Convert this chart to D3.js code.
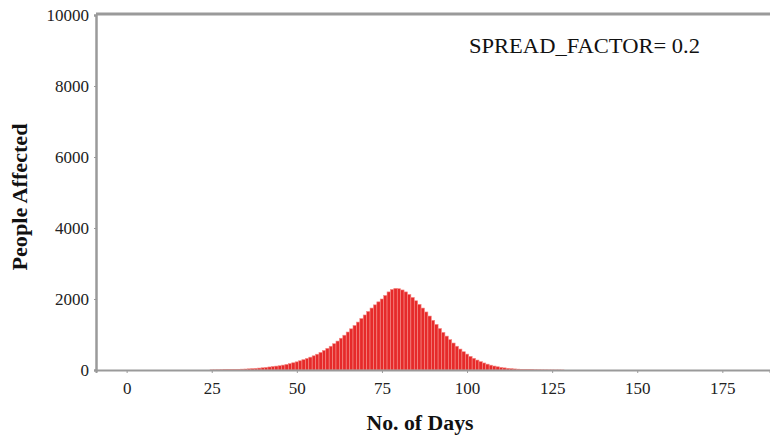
<!DOCTYPE html>
<html>
<head>
<meta charset="utf-8">
<script src="https://cdn.jsdelivr.net/npm/d3@7"></script>
<style>
  body { margin: 0; background: #fff; }
  svg { display: block; }
</style>
</head>
<body>
<div id="chart"></div>
<script>
// days with cases (first day, then one value per day)
var firstDay = 25;
var affected = [
  4, 5, 6, 8, 10, 12, 14, 17, 20, 24,            // 25-34
  28, 33, 39, 46, 54, 63, 74, 86, 100, 110,      // 35-44
  120, 138, 158, 180, 204, 230, 260, 292, 326, 362, // 45-54
  400, 445, 495, 550, 610, 670, 740, 815, 895, 980, // 55-64
  1070, 1160, 1255, 1350, 1450, 1550, 1650, 1745, 1835, 1920, // 65-74
  2000, 2100, 2200, 2270, 2300, 2290, 2255, 2200, 2130, 2045, // 75-84
  1950, 1850, 1745, 1635, 1520, 1400, 1285, 1170, 1060, 955,  // 85-94
  855, 760, 670, 590, 515, 448, 385, 330, 280, 236,           // 95-104
  198, 165, 136, 112, 91, 74, 60, 48, 38, 30,                 // 105-114
  24, 19, 15, 12, 9, 7, 6, 5, 4, 3,                           // 115-124
  3, 2, 2, 1                                                  // 125-128
];
var xTicks = [0, 25, 50, 75, 100, 125, 150, 175];
var yTicks = [0, 2000, 4000, 6000, 8000, 10000];
var annotation = "SPREAD_FACTOR= 0.2";

(function () {
  var serif = '"Liberation Serif", "Times New Roman", serif';
  var data = affected.map(function (v, i) { return { day: firstDay + i, value: v }; });

  var W = 770, H = 438;
  var pLeft = 96, pRight = 770, pTop = 15, pBottom = 370;

  var svg = d3.select('#chart').append('svg')
    .attr('width', W)
    .attr('height', H)
    .attr('font-family', serif);

  var x = d3.scaleLinear().domain([-9, 189]).range([pLeft, pRight]);
  var y = d3.scaleLinear().domain([0, 10000]).range([pBottom, pTop]);

  // bars
  var bw = x(1) - x(0);
  svg.append('g').selectAll('rect').data(data)
    .enter().append('rect')
    .attr('x', function (d) { return x(d.day) - bw / 2; })
    .attr('width', bw)
    .attr('y', function (d) { return y(d.value); })
    .attr('height', function (d) { return pBottom - y(d.value); })
    .attr('fill', '#e62a2a')
    .attr('stroke', '#f58b86')
    .attr('stroke-width', 0.6);

  // x axis
  var xAxis = svg.append('g')
    .attr('transform', 'translate(0,' + pBottom + ')')
    .call(d3.axisBottom(x).tickValues(xTicks).tickSize(3).tickPadding(9).tickFormat(d3.format('d')));
  xAxis.attr('font-family', serif);
  xAxis.select('.domain').attr('stroke', '#9a9a9a').attr('stroke-width', 2);
  xAxis.selectAll('.tick line').attr('stroke', '#9a9a9a');
  xAxis.selectAll('text').attr('font-size', 17).attr('fill', '#222');

  // y axis
  var yAxis = svg.append('g')
    .attr('transform', 'translate(' + pLeft + ',0)')
    .call(d3.axisLeft(y).tickValues(yTicks).tickSize(2).tickPadding(5).tickFormat(d3.format('d')));
  yAxis.attr('font-family', serif);
  yAxis.select('.domain').attr('stroke', '#9a9a9a').attr('stroke-width', 2.5);
  yAxis.selectAll('.tick line').attr('stroke', '#9a9a9a');
  yAxis.selectAll('text').attr('font-size', 17).attr('fill', '#222');

  // top frame line
  svg.append('line')
    .attr('x1', pLeft).attr('x2', pRight)
    .attr('y1', pTop - 1).attr('y2', pTop - 1)
    .attr('stroke', '#9a9a9a')
    .attr('stroke-width', 3);

  // titles
  svg.append('text')
    .attr('x', 420).attr('y', 430)
    .attr('text-anchor', 'middle')
    .attr('font-size', 20).attr('font-weight', 'bold').attr('fill', '#111')
    .attr('textLength', 107).attr('lengthAdjust', 'spacingAndGlyphs')
    .text('No. of Days');

  svg.append('text')
    .attr('transform', 'translate(27,197) rotate(-90)')
    .attr('text-anchor', 'middle')
    .attr('font-size', 20).attr('font-weight', 'bold').attr('fill', '#111')
    .attr('textLength', 147).attr('lengthAdjust', 'spacingAndGlyphs')
    .text('People Affected');

  svg.append('text')
    .attr('x', 469).attr('y', 53)
    .attr('font-size', 22).attr('fill', '#111')
    .attr('textLength', 231).attr('lengthAdjust', 'spacingAndGlyphs')
    .text(annotation);
})();
</script>
</body>
</html>
